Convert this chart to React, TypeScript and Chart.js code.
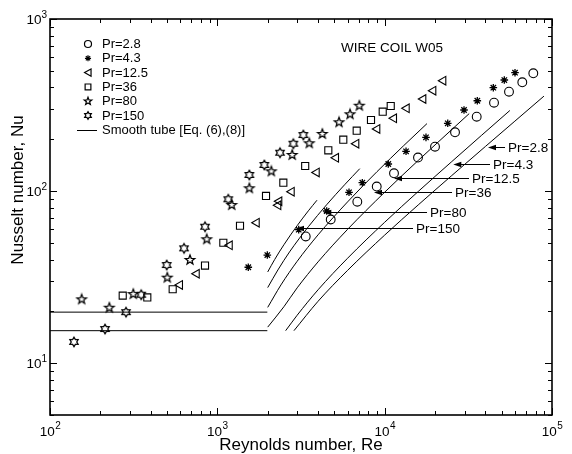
import React, { useEffect, useRef } from 'react';
import { Chart, registerables } from 'chart.js';

Chart.register(...registerables);

const FONT = '"Liberation Sans", Arial, Helvetica, sans-serif';

// ---------------- Experimental data (Re, Nu) ----------------
const rePr2_8 = [3375, 4760, 6863, 8965, 11370, 15820, 19990, 26330, 35480, 45030, 55340, 66450, 77310];
const nuPr2_8 = [54.5, 68.4, 86.8, 106.3, 126.9, 156.7, 181.1, 219.6, 270.5, 326.3, 378.1, 428.7, 483.5];

const rePr4_3 = [1531, 1989, 3064, 4504, 6122, 7352, 10510, 13420, 17660, 23820, 29800, 35780, 44600, 51880, 60110];
const nuPr4_3 = [36.1, 42.5, 59.7, 76.6, 98.4, 111.9, 143.7, 170.3, 205.3, 247.7, 296, 335, 398.8, 442, 487.5];

const rePr12_5 = [598, 753, 1186, 1719, 2314, 2346, 2782, 3925, 5119, 6768, 9036, 11370, 13540, 17020, 19530, 22410];
const nuPr12_5 = [28.5, 33.1, 48.4, 65.5, 82.7, 87.3, 99.2, 128.3, 156.1, 188.5, 229.6, 264.9, 302.8, 342.8, 383.1, 437.9];

const rePr36 = [272, 381.5, 541, 844, 1086, 1366, 1954, 2480, 3350, 4605, 5659, 6806, 8285, 9735, 10870];
const nuPr36 = [24.7, 24.1, 26.9, 36.9, 50.1, 62.9, 93.7, 111.9, 139.9, 172.6, 199, 224.4, 258.9, 289.3, 312.3];

const rePr80 = [154.6, 226.2, 314.6, 502.3, 686.5, 864.2, 1219, 1553, 2102, 2802, 3544, 4240, 5336, 6207, 7055];
const nuPr80 = [23.5, 21.0, 25.2, 31.4, 39.8, 52.5, 83.0, 103.8, 130.3, 162.1, 189.6, 214.7, 251.1, 279.4, 313.5];

const rePr150 = [139.1, 213.2, 284.6, 350.8, 498.2, 632.2, 844, 1163, 1553, 1909, 2369, 2845, 3265];
const nuPr150 = [13.3, 15.8, 19.8, 25.0, 37.2, 46.5, 62.1, 89.6, 124.1, 141.8, 167.1, 188.5, 211.8];

// ---------------- Smooth tube lines ----------------
const lamRe = [100, 1990];
const lamNuUpper = [19.8, 19.8];
const lamNuLower = [15.45, 15.45];

const smRe150 = [2000, 2200, 2500, 3000, 3500, 3940];
const smNu150 = [33.9, 40.0, 48.8, 63.0, 76.8, 88.5];
const smRe80 = [2000, 2300, 2700, 3500, 4500, 5800, 7100];
const smNu80 = [27.5, 34.8, 44.3, 62.1, 83.3, 109.6, 135.0];
const smRe36 = [2000, 2400, 3000, 4000, 6000, 9000, 13000, 17900];
const smNu36 = [21.1, 28.5, 39.1, 55.7, 86.5, 129.7, 183.8, 246.7];
const smRe12_5 = [2000, 2500, 3000, 4000, 6000, 10000, 16000, 25000, 32000];
const smNu12_5 = [16.2, 21.3, 27.4, 38.8, 59.9, 98.5, 151.8, 226.3, 282];
const smRe4_3 = [2560, 3000, 4000, 6000, 10000, 16000, 25000, 38000, 56000];
const smNu4_3 = [15.45, 19.0, 26.7, 40.7, 65.9, 100.2, 147.5, 211.2, 294];
const smRe2_8 = [2870, 4000, 6000, 10000, 16000, 25000, 40000, 60000, 89500];
const smNu2_8 = [15.45, 22.9, 34.6, 55.5, 83.7, 122.4, 181.7, 255.0, 356.3];

// ---------------- Annotations ----------------
const arrowLabels = ['Pr=2.8', 'Pr=4.3', 'Pr=12.5', 'Pr=36', 'Pr=80', 'Pr=150'];
const arrowTipRe = [41450, 25720, 11370, 8637, 4298, 2953];
const arrowTipNu = [181.1, 143.7, 119.7, 98.4, 75.9, 60.8];
const arrowTailRe = [52390, 42620, 31920, 25270, 17910, 14770];

const legendLabels = ['Pr=2.8', 'Pr=4.3', 'Pr=12.5', 'Pr=36', 'Pr=80', 'Pr=150'];
const legendLineLabel = 'Smooth tube [Eq. (6),(8)]';
const titleText = 'WIRE COIL W05';
const titleRe = 11070;
const titleNu = 678;

const xTickExps = [2, 3, 4, 5];
const yTickExps = [1, 2, 3];
const xTitle = 'Reynolds number, Re';
const yTitle = 'Nusselt number, Nu';

type Kind = 'circle' | 'asterisk' | 'triLeft' | 'square' | 'star5' | 'hexagram';
const kinds: Kind[] = ['circle', 'asterisk', 'triLeft', 'square', 'star5', 'hexagram'];

function drawShape(ctx: CanvasRenderingContext2D, kind: Kind, cx: number, cy: number, s: number) {
  ctx.beginPath();
  if (kind === 'circle') {
    ctx.arc(cx, cy, 4.4 * s, 0, Math.PI * 2);
  } else if (kind === 'asterisk') {
    const r = 3.8 * s;
    for (let k = 0; k < 4; k++) {
      const a = (k * Math.PI) / 4;
      ctx.moveTo(cx + r * Math.cos(a), cy + r * Math.sin(a));
      ctx.lineTo(cx - r * Math.cos(a), cy - r * Math.sin(a));
    }
  } else if (kind === 'triLeft') {
    ctx.moveTo(cx - 4.3 * s, cy);
    ctx.lineTo(cx + 3.8 * s, cy - 4.6 * s);
    ctx.lineTo(cx + 3.8 * s, cy + 4.6 * s);
    ctx.closePath();
  } else if (kind === 'square') {
    ctx.rect(cx - 3.6 * s, cy - 3.6 * s, 7.2 * s, 7.2 * s);
  } else if (kind === 'star5') {
    for (let k = 0; k < 10; k++) {
      const r = k % 2 === 0 ? 5.0 * s : 2.1 * s;
      const a = -Math.PI / 2 + (k * Math.PI) / 5;
      const px = cx + r * Math.cos(a);
      const py = cy + r * Math.sin(a);
      if (k === 0) ctx.moveTo(px, py); else ctx.lineTo(px, py);
    }
    ctx.closePath();
  } else if (kind === 'hexagram') {
    for (let k = 0; k < 12; k++) {
      const r = k % 2 === 0 ? 4.8 * s : 2.75 * s;
      const a = -Math.PI / 2 + (k * Math.PI) / 6;
      const px = cx + r * Math.cos(a);
      const py = cy + r * Math.sin(a);
      if (k === 0) ctx.moveTo(px, py); else ctx.lineTo(px, py);
    }
    ctx.closePath();
  }
  ctx.stroke();
}

function makeMarker(kind: Kind): HTMLCanvasElement {
  const c = document.createElement('canvas');
  c.width = 14;
  c.height = 14;
  const g = c.getContext('2d') as CanvasRenderingContext2D;
  g.strokeStyle = '#000';
  g.lineWidth = 1.25;
  drawShape(g, kind, 7, 7, 1);
  return c;
}

function pts(xs: number[], ys: number[]) {
  return xs.map((x, i) => ({ x, y: ys[i] }));
}

const decorPlugin = {
  id: 'decor',
  afterDraw(chart: any) {
    const { ctx, chartArea: ca, scales } = chart;
    const xs = scales.x;
    const ys = scales.y;
    ctx.save();
    ctx.fillStyle = '#000';
    ctx.strokeStyle = '#000';

    // Arrows + labels
    ctx.font = `13.5px ${FONT}`;
    ctx.textBaseline = 'middle';
    ctx.textAlign = 'left';
    ctx.lineWidth = 1;
    for (let i = 0; i < arrowLabels.length; i++) {
      const tx = xs.getPixelForValue(arrowTipRe[i]);
      const ty = Math.round(ys.getPixelForValue(arrowTipNu[i])) + 0.5;
      const sx = xs.getPixelForValue(arrowTailRe[i]);
      ctx.beginPath();
      ctx.moveTo(sx, ty);
      ctx.lineTo(tx + 6, ty);
      ctx.stroke();
      ctx.beginPath();
      ctx.moveTo(tx, ty);
      ctx.lineTo(tx + 8, ty - 2.8);
      ctx.lineTo(tx + 8, ty + 2.8);
      ctx.closePath();
      ctx.fill();
      ctx.fillText(arrowLabels[i], sx + 3, ty + 0.5);
    }

    // Title inside plot
    ctx.font = `13.5px ${FONT}`;
    ctx.textAlign = 'center';
    ctx.fillText(titleText, xs.getPixelForValue(titleRe), ys.getPixelForValue(titleNu));

    // Legend
    const lx = ca.left + 38;
    const ly0 = ca.top + 25;
    const dy = 14.3;
    ctx.font = `13px ${FONT}`;
    ctx.textAlign = 'left';
    for (let i = 0; i < legendLabels.length; i++) {
      const y = ly0 + i * dy;
      ctx.lineWidth = 1.2;
      drawShape(ctx, kinds[i], lx, y, 0.8);
      ctx.fillText(legendLabels[i], ca.left + 52, y + 0.5);
    }
    const lineY = Math.round(ly0 + 6 * dy) + 0.5;
    ctx.lineWidth = 1;
    ctx.beginPath();
    ctx.moveTo(ca.left + 27, lineY);
    ctx.lineTo(ca.left + 47, lineY);
    ctx.stroke();
    ctx.fillText(legendLineLabel, ca.left + 52, lineY);

    // Frame
    ctx.lineWidth = 1.6;
    ctx.strokeRect(ca.left, ca.top, ca.right - ca.left, ca.bottom - ca.top);

    // Ticks
    ctx.lineWidth = 1;
    ctx.beginPath();
    for (let d = 2; d <= 5; d++) {
      for (let m = 1; m <= 9; m++) {
        const v = m * Math.pow(10, d);
        if (v > 1e5 * 1.0001) break;
        const px = Math.round(xs.getPixelForValue(v)) + 0.5;
        const len = m === 1 ? 7 : 4;
        ctx.moveTo(px, ca.bottom);
        ctx.lineTo(px, ca.bottom - len);
        ctx.moveTo(px, ca.top);
        ctx.lineTo(px, ca.top + len);
      }
    }
    for (let d = 0; d <= 3; d++) {
      for (let m = 1; m <= 9; m++) {
        const v = m * Math.pow(10, d);
        if (v < 5 * 0.9999 || v > 1000 * 1.0001) continue;
        const py = Math.round(ys.getPixelForValue(v)) + 0.5;
        const len = m === 1 ? 7 : 4;
        ctx.moveTo(ca.left, py);
        ctx.lineTo(ca.left + len, py);
        ctx.moveTo(ca.right, py);
        ctx.lineTo(ca.right - len, py);
      }
    }
    ctx.stroke();

    // Tick labels (10 with superscript)
    ctx.textBaseline = 'alphabetic';
    ctx.textAlign = 'left';
    const baseFont = `13.5px ${FONT}`;
    const supFont = `10px ${FONT}`;
    for (const e of xTickExps) {
      const px = xs.getPixelForValue(Math.pow(10, e));
      ctx.font = baseFont;
      const w1 = ctx.measureText('10').width;
      ctx.font = supFont;
      const w2 = ctx.measureText(String(e)).width;
      const x0 = px - (w1 + w2) / 2;
      ctx.font = baseFont;
      ctx.fillText('10', x0, ca.bottom + 21);
      ctx.font = supFont;
      ctx.fillText(String(e), x0 + w1 + 0.5, ca.bottom + 14);
    }
    for (const e of yTickExps) {
      const py = ys.getPixelForValue(Math.pow(10, e));
      ctx.font = supFont;
      const w2 = ctx.measureText(String(e)).width;
      ctx.font = baseFont;
      const w1 = ctx.measureText('10').width;
      const xr = ca.left - 3;
      ctx.fillText('10', xr - w2 - w1, py + 5);
      ctx.font = supFont;
      ctx.fillText(String(e), xr - w2, py - 1);
    }

    // Axis titles
    ctx.font = `17px ${FONT}`;
    ctx.textAlign = 'center';
    ctx.textBaseline = 'middle';
    ctx.fillText(xTitle, (ca.left + ca.right) / 2, ca.bottom + 30);
    ctx.save();
    ctx.translate(18, 190);
    ctx.rotate(-Math.PI / 2);
    ctx.fillText(yTitle, 0, 0);
    ctx.restore();

    ctx.restore();
  },
};

export default function App() {
  const ref = useRef<HTMLCanvasElement | null>(null);

  useEffect(() => {
    if (!ref.current) return;
    const markers = kinds.map((k) => makeMarker(k));
    const common = {
      showLine: false,
      borderColor: '#000',
      backgroundColor: 'rgba(0,0,0,0)',
      borderWidth: 1.1,
    };
    const lineSet = (data: { x: number; y: number }[]) => ({
      data,
      showLine: true,
      pointRadius: 0,
      borderColor: '#000',
      borderWidth: 1,
      cubicInterpolationMode: 'monotone' as const,
      fill: false,
    });

    const chart = new Chart(ref.current, {
      type: 'scatter',
      data: {
        datasets: [
          lineSet(pts(lamRe, lamNuUpper)),
          lineSet(pts(lamRe, lamNuLower)),
          lineSet(pts(smRe150, smNu150)),
          lineSet(pts(smRe80, smNu80)),
          lineSet(pts(smRe36, smNu36)),
          lineSet(pts(smRe12_5, smNu12_5)),
          lineSet(pts(smRe4_3, smNu4_3)),
          lineSet(pts(smRe2_8, smNu2_8)),
          { ...common, data: pts(rePr2_8, nuPr2_8), pointStyle: 'circle', pointRadius: 4.4 },
          { ...common, data: pts(rePr4_3, nuPr4_3), pointStyle: 'star', pointRadius: 3.8, borderWidth: 1.3 },
          { ...common, data: pts(rePr12_5, nuPr12_5), pointStyle: 'triangle', pointRotation: -90, pointRadius: 5 },
          { ...common, data: pts(rePr36, nuPr36), pointStyle: 'rect', pointRadius: 5 },
          { ...common, data: pts(rePr80, nuPr80), pointStyle: markers[4], pointRadius: 5 },
          { ...common, data: pts(rePr150, nuPr150), pointStyle: markers[5], pointRadius: 5 },
        ] as any,
      },
      options: {
        responsive: false,
        animation: false,
        events: [],
        layout: { padding: { left: 50, right: 20, top: 19, bottom: 39 } },
        plugins: { legend: { display: false }, tooltip: { enabled: false } },
        scales: {
          x: { type: 'logarithmic', min: 100, max: 100000, display: false },
          y: { type: 'logarithmic', min: 5, max: 1000, display: false },
        },
      },
      plugins: [decorPlugin],
    });
    return () => chart.destroy();
  }, []);

  return (
    <canvas
      ref={ref}
      width={572}
      height={454}
      style={{ position: 'fixed', left: 0, top: 0, width: 572, height: 454, background: '#fff' }}
    />
  );
}
